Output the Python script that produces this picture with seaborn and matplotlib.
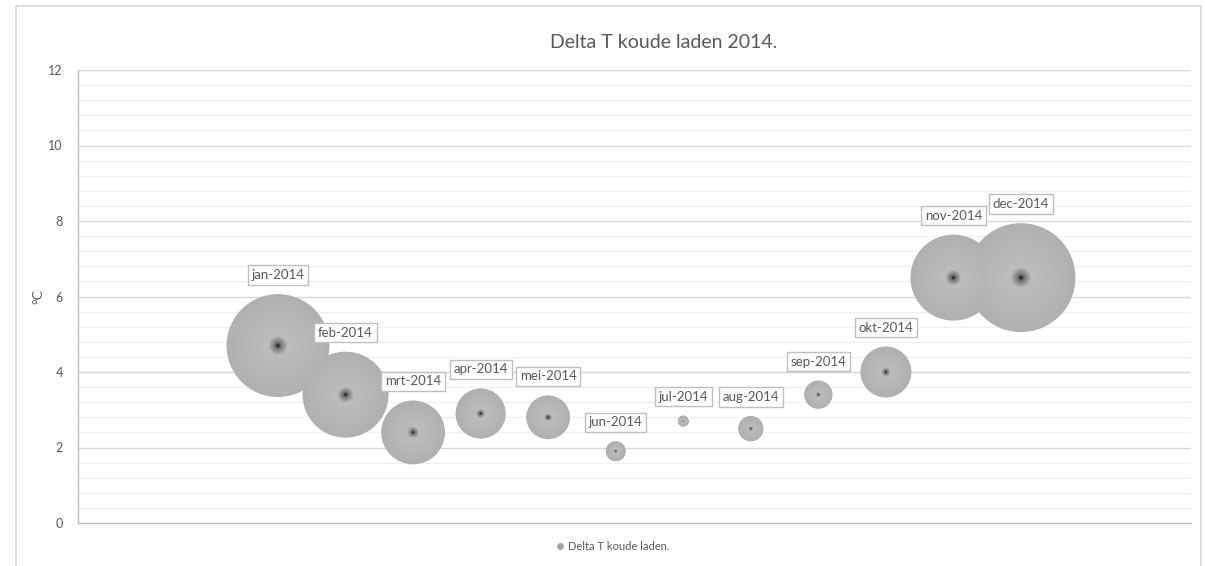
import numpy as np
import pandas as pd
import matplotlib
matplotlib.use("Agg")
import matplotlib.pyplot as plt
from matplotlib.lines import Line2D
from matplotlib.patches import Rectangle
import seaborn as sns

# Monthly data
months = ["jan-2014", "feb-2014", "mrt-2014", "apr-2014", "mei-2014", "jun-2014",
          "jul-2014", "aug-2014", "sep-2014", "okt-2014", "nov-2014", "dec-2014"]
month_index = [1, 2, 3, 4, 5, 6, 7, 8, 9, 10, 11, 12]
delta_t = [4.7, 3.4, 2.4, 2.9, 2.8, 1.9, 2.7, 2.5, 3.4, 4.0, 6.5, 6.5]
bubble_size = [26.5, 18.5, 10.2, 6.3, 4.8, 1.0, 0.3, 1.6, 2.0, 6.5, 18.5, 29.7]

df = pd.DataFrame({"x": month_index, "y": delta_t, "size": bubble_size, "label": months})

sns.set_theme(style="white")
plt.rcParams["font.family"] = ["Lato", "DejaVu Sans"]

W, H, DPI = 1205, 566, 100
fig = plt.figure(figsize=(W / DPI, H / DPI), dpi=DPI)
ax = fig.add_axes([78 / W, 1 - 523 / H, (1191 - 78) / W, (523 - 70) / H])

TEXT = "#595959"
max_size = max(bubble_size)
max_area = max_size * 207.0  # points^2 for the largest bubble

# Radial shading: concentric layers from the rim to the dark centre
def shade(f):
    if f < 0.07:
        return 0.0 + (0.45 - 0.0) * f / 0.07
    if f < 0.2:
        return 0.45 + (0.74 - 0.45) * (f - 0.07) / 0.13
    return 0.74 - (0.74 - 0.69) * (f - 0.2) / 0.8

n_layers = 45
for k in range(n_layers):
    f = 1.0 - k / n_layers
    g = shade(f)
    sns.scatterplot(data=df, x="x", y="y", size="size",
                    sizes=(0, max_area * f * f), size_norm=(0, max_size),
                    color=(g, g, g), edgecolor="none", linewidth=0,
                    legend=False, ax=ax, zorder=3)

# Data labels above each bubble
for xi, yi, si, lab in zip(month_index, delta_t, bubble_size, months):
    r_px = np.sqrt(si / max_size * max_area) / 0.72 / 2
    off = (r_px + 19) * 0.72
    ax.annotate(lab, (xi, yi), xytext=(0, off), textcoords="offset points",
                ha="center", va="center", fontsize=9.5, color=TEXT, zorder=5,
                bbox=dict(boxstyle="square,pad=0.28", fc="white", ec="#bfbfbf", lw=1))

ax.set_xlim(-1.961, 14.517)
ax.set_ylim(0, 12)
ax.set_yticks(np.arange(0, 13, 2))
ax.set_yticks(np.arange(0, 12.01, 0.4), minor=True)
ax.set_xticks([])
ax.grid(True, which="major", axis="y", color="#d9d9d9", lw=1, zorder=0)
ax.grid(True, which="minor", axis="y", color="#f0f0f0", lw=1, zorder=0)
ax.set_axisbelow(True)
ax.tick_params(axis="y", which="both", length=0, pad=11, labelsize=9, labelcolor=TEXT)
for s in ["top", "right"]:
    ax.spines[s].set_visible(False)
for s in ["left", "bottom"]:
    ax.spines[s].set_color("#bfbfbf")
    ax.spines[s].set_linewidth(1)
ax.set_xlabel("")
ax.set_ylabel("")
fig.text(38 / W, 1 - 297 / H, "°C", rotation=90, ha="center", va="center",
         fontsize=10, color=TEXT)

fig.text(664 / W, 1 - 43 / H, "Delta T koude laden 2014.", ha="center", va="center",
         fontsize=14, color=TEXT)

handle = Line2D([], [], marker="o", linestyle="none", markersize=5,
                markerfacecolor="#a6a6a6", markeredgecolor="none")
fig.legend([handle], ["Delta T koude laden."], loc="center", bbox_to_anchor=(612 / W, 1 - 546 / H),
           frameon=False, fontsize=8, labelcolor=TEXT, handletextpad=0.2, handlelength=1)

fig.add_artist(Rectangle((16 / W, -0.05), (1201 - 16) / W, 1.05 - 6 / H,
                         transform=fig.transFigure, fill=False, ec="#d9d9d9", lw=1.2))

fig.savefig("out.png", dpi=DPI)
